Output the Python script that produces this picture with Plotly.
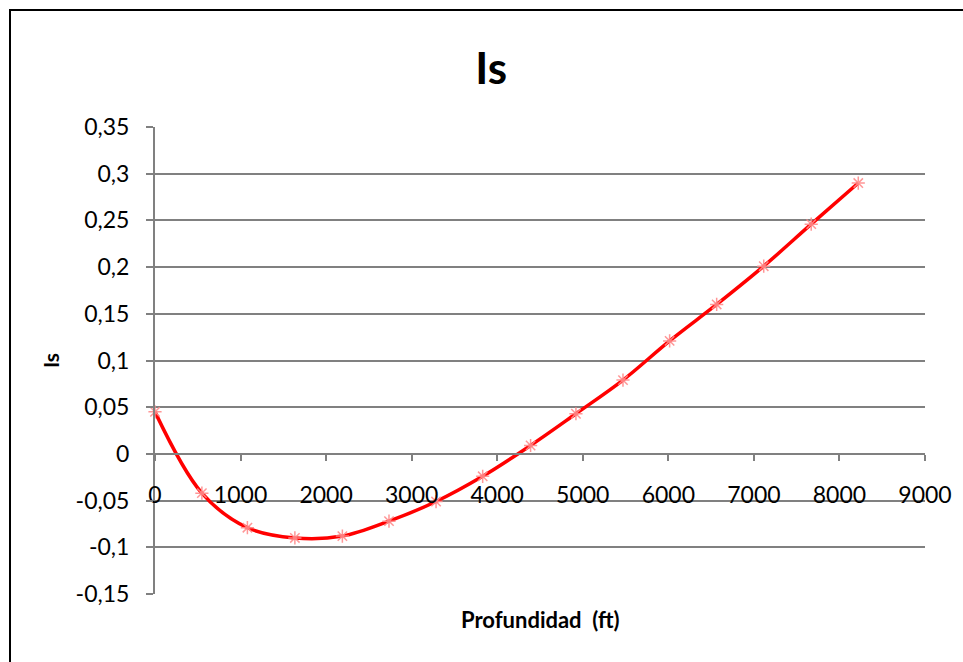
import plotly.graph_objects as go

# Depth (ft) and Is values
profundidad_ft = [0, 548, 1080, 1635, 2190, 2735, 3285, 3830, 4390, 4920,
                  5470, 6015, 6565, 7115, 7670, 8220]
is_valores = [0.045, -0.042, -0.079, -0.090, -0.088, -0.072, -0.051, -0.024,
              0.009, 0.043, 0.079, 0.121, 0.160, 0.201, 0.246, 0.290]

y_ticks = [-0.15, -0.10, -0.05, 0.0, 0.05, 0.10, 0.15, 0.20, 0.25, 0.30, 0.35]
y_tick_labels = ["-0,15", "-0,1", "-0,05", "0", "0,05", "0,1", "0,15", "0,2",
                 "0,25", "0,3", "0,35"]
x_ticks = [0, 1000, 2000, 3000, 4000, 5000, 6000, 7000, 8000, 9000]
x_tick_labels = ["0", "1000", "2000", "3000", "4000", "5000", "6000", "7000",
                 "8000", "9000"]

Y_MIN, Y_MAX = -0.15, 0.35
GRID = "#808080"
FONT = "Lato"

fig = go.Figure()
fig.add_trace(go.Scatter(
    x=profundidad_ft, y=is_valores,
    mode="lines+markers",
    line=dict(color="#FF0000", width=3.5, shape="spline", smoothing=1.0),
    marker=dict(symbol="asterisk-open", size=11, color="rgba(255,140,140,0.9)",
                line=dict(color="rgba(255,140,140,0.9)", width=1.5)),
    cliponaxis=False,
    showlegend=False,
))

fig.update_layout(
    width=963, height=662,
    margin=dict(l=155, r=38, t=127, b=68),
    paper_bgcolor="white", plot_bgcolor="white",
    font=dict(family=FONT, color="black", size=23),
    title=dict(text="<b>Is</b>", x=0.51, xanchor="center", y=0.897,
               yanchor="middle", font=dict(family=FONT, size=44)),
    xaxis=dict(
        range=[0, 9000], tickvals=x_ticks, ticktext=x_tick_labels,
        anchor="free", position=(0 - Y_MIN) / (Y_MAX - Y_MIN),
        showline=True, linecolor=GRID, linewidth=2,
        ticks="outside", ticklen=6, tickcolor=GRID, tickwidth=2,
        ticklabelstandoff=14,
        showgrid=False, zeroline=False,
    ),
    yaxis=dict(
        range=[Y_MIN, Y_MAX], tickvals=y_ticks, ticktext=y_tick_labels,
        showline=True, linecolor=GRID, linewidth=2,
        ticks="outside", ticklen=7, tickcolor=GRID, tickwidth=2,
        ticklabelstandoff=12,
        showgrid=True, gridcolor=GRID, gridwidth=2, zeroline=False,
        title=dict(text="<b>Is</b>", font=dict(family=FONT, size=21),
                   standoff=10),
    ),
    annotations=[dict(
        text="<b>Profundidad  (ft)</b>", xref="paper", yref="paper",
        x=0.501, y=-0.054, xanchor="center", yanchor="middle", showarrow=False,
        font=dict(family=FONT, size=22),
    )],
    shapes=[dict(
        type="rect", xref="paper", yref="paper",
        x0=(10 - 155) / 770, x1=1.2, y0=-0.3, y1=(594 - 10) / 467,
        line=dict(color="black", width=2), fillcolor="rgba(0,0,0,0)",
        layer="below",
    )],
)

fig.write_html("out.html")
